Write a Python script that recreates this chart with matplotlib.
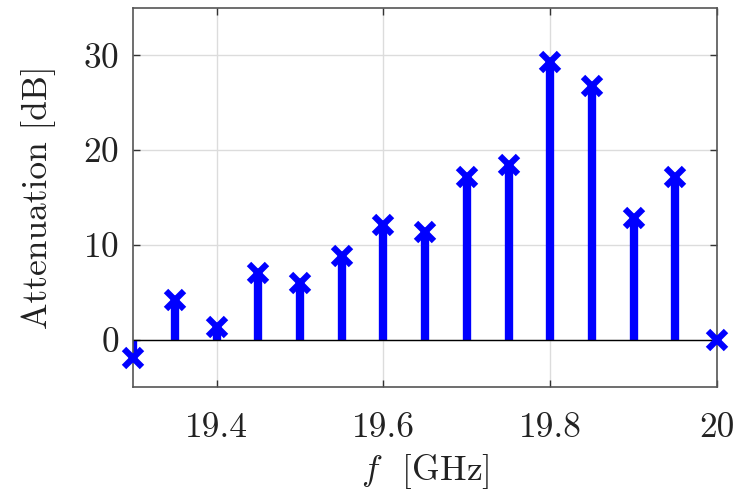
import numpy as np
import matplotlib
matplotlib.use("Agg")
import matplotlib.pyplot as plt

plt.rcParams['font.family'] = 'serif'
plt.rcParams['font.serif'] = ['cmr10', 'DejaVu Serif']
plt.rcParams['mathtext.fontset'] = 'cm'
plt.rcParams['axes.formatter.use_mathtext'] = True
plt.rcParams['axes.unicode_minus'] = False

# measured attenuation per frequency point
freq_ghz = [19.30, 19.35, 19.40, 19.45, 19.50, 19.55, 19.60, 19.65,
            19.70, 19.75, 19.80, 19.85, 19.90, 19.95, 20.00]
atten_db = [-1.9, 4.2, 1.3, 7.0, 6.0, 8.8, 12.1, 11.3,
            17.2, 18.4, 29.3, 26.8, 12.8, 17.2, 0.0]

x_ticks = [19.4, 19.6, 19.8, 20]
x_labels = ['19.4', '19.6', '19.8', '20']
y_ticks = [0, 10, 20, 30]

fs = 25.5

fig = plt.figure(figsize=(7.44, 4.91), dpi=100)
ax = fig.add_axes([0.179, 0.212, 0.785, 0.772])

markers, stems, base = ax.stem(freq_ghz, atten_db, linefmt='-', markerfmt='x', basefmt='-')
plt.setp(stems, color='#0000ff', linewidth=6.0)
plt.setp(markers, color='#0000ff', markersize=13, markeredgewidth=4.5, zorder=4)
plt.setp(base, color='black', linewidth=1.0)
markers.set_clip_on(False)

ax.set_xlim(19.3, 20)
ax.set_ylim(-5, 35)
ax.set_xticks(x_ticks)
ax.set_xticklabels(x_labels)
ax.set_yticks(y_ticks)

ax.grid(True, color='#dcdcdc', linewidth=1.0)
ax.set_axisbelow(True)
ax.tick_params(direction='in', top=True, right=True, length=5, width=1,
               color='#333333', labelsize=fs)
ax.tick_params(axis='x', pad=18)
ax.tick_params(axis='y', pad=10)
for s in ax.spines.values():
    s.set_color('#555555')
    s.set_linewidth(1.2)

ax.set_xlabel(r'$f$  [GHz]', fontsize=fs, color='#222222', labelpad=6)
ax.set_ylabel('Attenuation [dB]', fontsize=fs, color='#222222', labelpad=20)
for t in ax.get_xticklabels() + ax.get_yticklabels():
    t.set_color('#222222')

fig.savefig('out.png', dpi=100)
